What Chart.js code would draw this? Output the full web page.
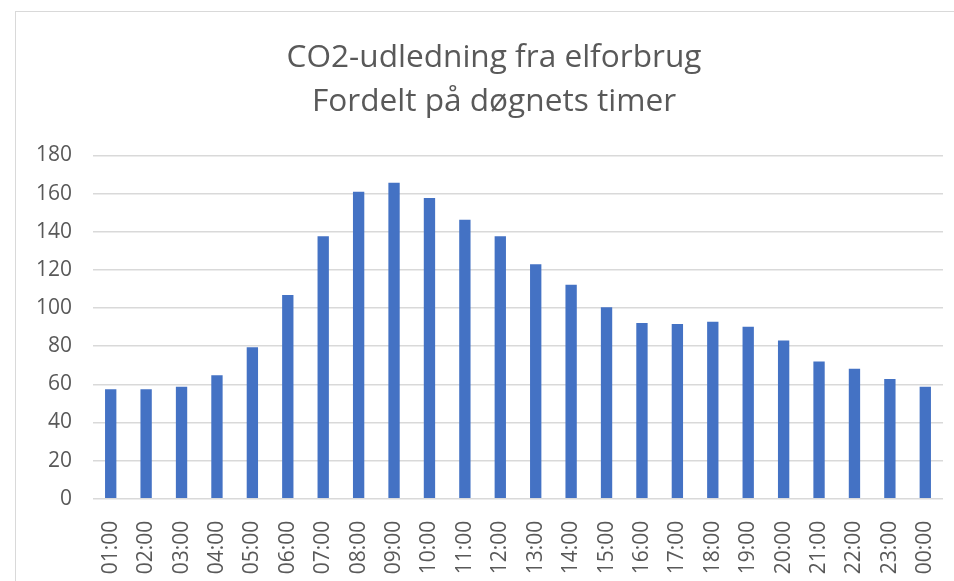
<!DOCTYPE html>
<html>
<head>
<meta charset="utf-8">
<script src="https://cdn.jsdelivr.net/npm/chart.js@4/dist/chart.umd.min.js"></script>
<style>
  html, body { margin: 0; padding: 0; background: #fff; }
  #wrap { position: relative; width: 954px; height: 581px; overflow: hidden; }
  #frame { position: absolute; left: 15px; top: 11px; width: 1200px; height: 1200px; border: 1.5px solid #d9d9d9; box-sizing: border-box; }
  canvas { position: absolute; left: 0; top: 0; }
</style>
</head>
<body>
<div id="wrap">
  <div id="frame"></div>
  <canvas id="c" width="954" height="581"></canvas>
</div>
<script>
const titleLines = ["CO2-udledning fra elforbrug", "Fordelt på døgnets timer"];
const hours = ["01:00","02:00","03:00","04:00","05:00","06:00","07:00","08:00","09:00","10:00","11:00","12:00",
               "13:00","14:00","15:00","16:00","17:00","18:00","19:00","20:00","21:00","22:00","23:00","00:00"];
const co2 = [57.4, 57.4, 58.7, 64.7, 79.4, 106.8, 137.6, 161, 165.7, 157.7, 146.3, 137.6,
             122.9, 112.2, 100.4, 92.1, 91.6, 92.8, 90.2, 82.9, 72.0, 68.2, 62.8, 58.7];
const yMin = 0, yMax = 180, yStep = 20;

const FONT = "'Open Sans', sans-serif";
const GREY = "#595959";
const PAD_LEFT = 34;

new Chart(document.getElementById('c'), {
  type: 'bar',
  data: {
    labels: hours,
    datasets: [{
      data: co2,
      backgroundColor: '#4472C4',
      borderWidth: 0,
      barPercentage: 0.32,
      categoryPercentage: 1.0
    }]
  },
  options: {
    responsive: false,
    animation: false,
    devicePixelRatio: 1,
    layout: { padding: { top: 0, left: PAD_LEFT, right: 0, bottom: 0 } },
    plugins: {
      legend: { display: false },
      tooltip: { enabled: false },
      title: {
        display: true,
        text: titleLines,
        color: GREY,
        font: { family: FONT, size: 31.6, weight: 'normal', lineHeight: 44 / 31.6 },
        padding: { top: 36.4, bottom: 31 }
      }
    },
    scales: {
      x: {
        grid: { display: false },
        border: { display: false },
        ticks: {
          color: GREY,
          font: { family: FONT, size: 21 },
          minRotation: 90,
          maxRotation: 90,
          autoSkip: false,
          padding: 14
        },
        afterFit: (s) => { s.height = 82.3; s.paddingLeft = 0; s.paddingRight = 0; }
      },
      y: {
        min: yMin,
        max: yMax,
        grid: { color: '#d9d9d9', lineWidth: 1.5, drawTicks: false },
        border: { display: false },
        ticks: {
          stepSize: yStep,
          color: GREY,
          font: { family: FONT, size: 21 },
          padding: 21
        },
        afterFit: (s) => { s.width = 93 - PAD_LEFT; }
      },
      yRight: {
        position: 'right',
        min: yMin,
        max: yMax,
        grid: { display: false },
        border: { display: false },
        ticks: { display: false },
        afterFit: (s) => { s.width = 11; }
      }
    }
  }
});
</script>
</body>
</html>
